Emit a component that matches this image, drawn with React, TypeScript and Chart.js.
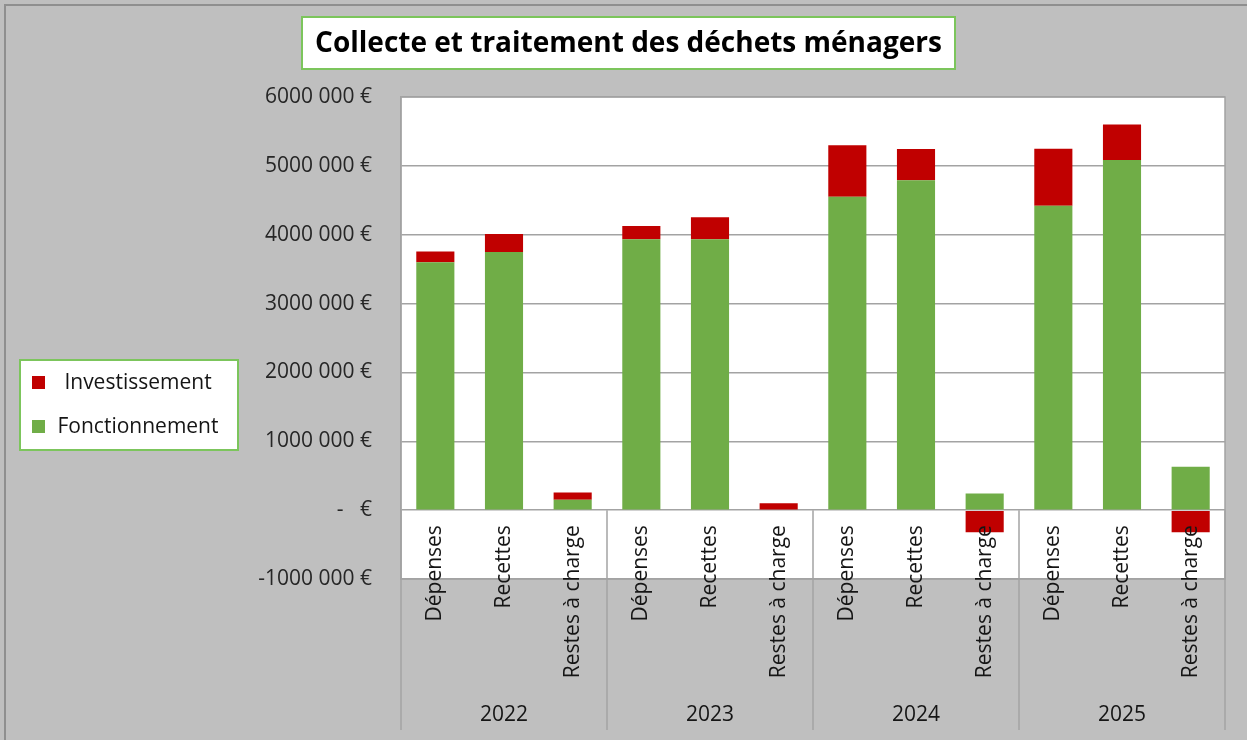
import React, { useEffect, useRef } from "react";
import { Chart, registerables } from "chart.js";

Chart.register(...registerables);

const TITLE = "Collecte et traitement des déchets ménagers";
const years = ["2022", "2023", "2024", "2025"];
const subCategories = ["Dépenses", "Recettes", "Restes à charge"];
const fonctionnement = [3600000, 3750000, 150000, 3935000, 3935000, 0, 4550000, 4790000, 243000, 4420000, 5085000, 630000];
const investissement = [155000, 260000, 105000, 190000, 320000, 100000, 750000, 455000, -320000, 830000, 515000, -320000];
const seriesNames = ["Fonctionnement", "Investissement"];
const seriesColors = ["#70ad47", "#c00000"];
const yMin = -1000000;
const yMax = 6000000;
const yStep = 1000000;

const labels: string[] = [];
years.forEach((y) => subCategories.forEach((s) => labels.push(s + "|" + y)));

const FONT = "'Open Sans', 'DejaVu Sans', sans-serif";
const BG = "#bfbfbf";
const GRID = "#a3a3a3";
const BOXBORDER = "#7cc55c";
const TEXT = "#151515";

function fmtTick(v: number): string {
  if (v === 0) return "-   €";
  const sign = v < 0 ? "-" : "";
  const a = Math.abs(v);
  const th = Math.floor(a / 1000);
  const rest = String(a % 1000).padStart(3, "0");
  return sign + th + " " + rest + " €";
}

const decor = {
  id: "decor",
  beforeDraw(chart: any) {
    const { ctx, chartArea, width, height } = chart;
    ctx.save();
    ctx.fillStyle = BG;
    ctx.fillRect(0, 0, width, height);
    ctx.strokeStyle = "#8f8f8f";
    ctx.lineWidth = 2;
    ctx.beginPath();
    ctx.moveTo(5, height);
    ctx.lineTo(5, 5);
    ctx.lineTo(width, 5);
    ctx.stroke();
    ctx.fillStyle = "#ffffff";
    ctx.fillRect(chartArea.left, chartArea.top, chartArea.right - chartArea.left, chartArea.bottom - chartArea.top);
    ctx.restore();
  },
  afterDraw(chart: any) {
    const { ctx, chartArea } = chart;
    const xs = chart.scales.x;
    const ys = chart.scales.y;
    const zeroY = ys.getPixelForValue(0);
    const sepBottom = 730;
    ctx.save();
    // plot border
    ctx.strokeStyle = GRID;
    ctx.lineWidth = 1.5;
    ctx.strokeRect(chartArea.left, chartArea.top, chartArea.right - chartArea.left, chartArea.bottom - chartArea.top);
    // group separators
    const n = labels.length;
    const per = subCategories.length;
    const bounds: number[] = [];
    for (let g = 0; g <= years.length; g++) {
      let x;
      if (g === 0) x = chartArea.left;
      else if (g === years.length) x = chartArea.right;
      else x = (xs.getPixelForValue(g * per - 1) + xs.getPixelForValue(g * per)) / 2;
      bounds.push(x);
      ctx.beginPath();
      ctx.moveTo(x, zeroY);
      ctx.lineTo(x, sepBottom);
      ctx.stroke();
    }
    // sub category labels
    ctx.fillStyle = TEXT;
    ctx.font = "21px " + FONT;
    ctx.textAlign = "right";
    ctx.textBaseline = "middle";
    for (let i = 0; i < n; i++) {
      const x = xs.getPixelForValue(i);
      ctx.save();
      ctx.translate(x, zeroY + 15);
      ctx.rotate(-Math.PI / 2);
      ctx.fillText(subCategories[i % per], 0, 0);
      ctx.restore();
    }
    // year labels
    ctx.textAlign = "center";
    for (let g = 0; g < years.length; g++) {
      ctx.fillText(years[g], (bounds[g] + bounds[g + 1]) / 2, 715);
    }
    // title box
    ctx.fillStyle = "#ffffff";
    ctx.fillRect(302, 17, 653, 52);
    ctx.strokeStyle = BOXBORDER;
    ctx.lineWidth = 2;
    ctx.strokeRect(302, 17, 653, 52);
    ctx.fillStyle = "#000000";
    ctx.font = "bold 28px " + FONT;
    ctx.textAlign = "center";
    ctx.fillText(TITLE, 628.5, 44);
    // legend box
    ctx.fillStyle = "#ffffff";
    ctx.fillRect(20, 360, 218, 90);
    ctx.strokeStyle = BOXBORDER;
    ctx.strokeRect(20, 360, 218, 90);
    const legendOrder = [1, 0];
    const rowY = [383, 427];
    ctx.font = "21px " + FONT;
    legendOrder.forEach((si, r) => {
      ctx.fillStyle = seriesColors[si];
      ctx.fillRect(32, rowY[r] - 7, 13, 13);
      ctx.fillStyle = TEXT;
      ctx.textAlign = "center";
      ctx.fillText(seriesNames[si], 138, rowY[r]);
    });
    ctx.restore();
  },
};

export default function App() {
  const ref = useRef<HTMLCanvasElement | null>(null);
  useEffect(() => {
    document.body.style.margin = "0";
    const canvas = ref.current!;
    const chart = new Chart(canvas, {
      type: "bar",
      data: {
        labels,
        datasets: [
          { label: seriesNames[0], data: fonctionnement, backgroundColor: seriesColors[0], borderWidth: 0 },
          { label: seriesNames[1], data: investissement, backgroundColor: seriesColors[1], borderWidth: 0 },
        ],
      },
      options: {
        animation: false,
        responsive: false,
        devicePixelRatio: 1,
        layout: { padding: { left: 0, top: 97, right: 22, bottom: 161 } },
        datasets: { bar: { barPercentage: 0.555, categoryPercentage: 1 } },
        plugins: { legend: { display: false }, title: { display: false }, tooltip: { enabled: false } },
        scales: {
          x: { stacked: true, display: false },
          y: {
            stacked: true,
            min: yMin,
            max: yMax,
            afterFit: (s: any) => { s.width = 401; },
            ticks: {
              stepSize: yStep,
              padding: 29,
              color: "#262626",
              font: { family: FONT, size: 21 },
              callback: (v: any) => fmtTick(Number(v)),
            },
            grid: { color: GRID, lineWidth: 1.5, drawTicks: false },
            border: { display: true, color: GRID, width: 1.5 },
          },
        },
      },
      plugins: [decor],
    });
    return () => chart.destroy();
  }, []);
  return (
    <div style={{ width: 1247, height: 740 }}>
      <canvas ref={ref} width={1247} height={740} style={{ display: "block" }} />
    </div>
  );
}
